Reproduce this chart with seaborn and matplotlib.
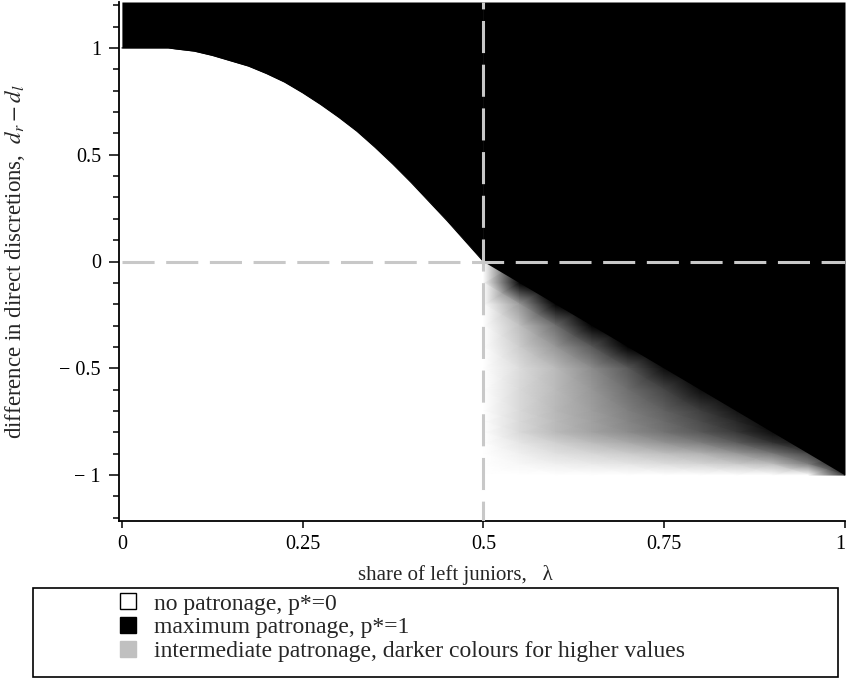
import numpy as np
import matplotlib
matplotlib.use("Agg")
import matplotlib.pyplot as plt
import seaborn as sns
from matplotlib.lines import Line2D
from matplotlib.patches import Rectangle
from matplotlib.ticker import MultipleLocator

# ---- data ----
# boundary between "no patronage" (below) and "maximum patronage" (above), lambda < 0.5
curve_x = [0.0, 0.064, 0.075, 0.10, 0.125, 0.15, 0.175, 0.20, 0.225, 0.25, 0.275,
           0.30, 0.325, 0.35, 0.375, 0.40, 0.425, 0.45, 0.475, 0.50]
curve_y = [1.0, 1.0, 0.995, 0.985, 0.965, 0.94, 0.915, 0.88, 0.84, 0.79, 0.735,
           0.675, 0.61, 0.535, 0.455, 0.37, 0.28, 0.19, 0.095, 0.0]
# upper edge of the intermediate region, lambda > 0.5
diag_x = [0.5, 1.0]
diag_y = [0.0, -1.0]
# intermediate patronage levels (0 = white, 1 = black) on a grid
grad_x = [0.5, 0.55, 0.6, 0.65, 0.7, 0.75, 0.8, 0.85, 0.9, 0.95, 1.0]
grad_y = [0.0, -0.1, -0.2, -0.3, -0.4, -0.5, -0.6, -0.7, -0.75, -0.8, -0.85, -0.9, -0.95, -1.0]
grad_p = [
    [0, 1.00, 1.00, 1.00, 1.00, 1.00, 1.00, 1.00, 1.00, 1.00, 1.00],
    [0, 1.00, 1.00, 1.00, 1.00, 1.00, 1.00, 1.00, 1.00, 1.00, 1.00],
    [0, 0.40, 1.00, 1.00, 1.00, 1.00, 1.00, 1.00, 1.00, 1.00, 1.00],
    [0, 0.25, 0.57, 1.00, 1.00, 1.00, 1.00, 1.00, 1.00, 1.00, 1.00],
    [0, 0.20, 0.41, 0.65, 1.00, 1.00, 1.00, 1.00, 1.00, 1.00, 1.00],
    [0, 0.14, 0.27, 0.45, 0.65, 0.95, 1.00, 1.00, 1.00, 1.00, 1.00],
    [0, 0.15, 0.27, 0.41, 0.57, 0.73, 0.95, 1.00, 1.00, 1.00, 1.00],
    [0, 0.15, 0.28, 0.38, 0.50, 0.62, 0.75, 0.92, 1.00, 1.00, 1.00],
    [0, 0.15, 0.27, 0.37, 0.48, 0.58, 0.70, 0.84, 1.00, 1.00, 1.00],
    [0, 0.15, 0.27, 0.36, 0.45, 0.55, 0.65, 0.78, 0.95, 1.00, 1.00],
    [0, 0.10, 0.18, 0.26, 0.33, 0.42, 0.50, 0.63, 0.80, 0.95, 1.00],
    [0, 0.06, 0.12, 0.16, 0.20, 0.25, 0.30, 0.40, 0.53, 0.73, 1.00],
    [0, 0.03, 0.06, 0.08, 0.10, 0.13, 0.16, 0.20, 0.25, 0.50, 1.00],
    [0, 0.00, 0.00, 0.00, 0.00, 0.00, 0.00, 0.00, 0.00, 0.00, 0.80],
]
x_ticks = [0, 0.25, 0.5, 0.75, 1]
x_tick_labels = ["0", "0.25", "0.5", "0.75", "1"]
y_ticks = [-1, -0.5, 0, 0.5, 1]
y_tick_labels = ["\u2212 1", "\u2212 0.5", "0", "0.5", "1"]
legend_labels = ["no patronage, p*=0",
                 "maximum patronage, p*=1",
                 "intermediate patronage, darker colours for higher values"]
legend_colors = ["white", "black", "#c0c0c0"]

# ---- style ----
sns.set_theme(style="ticks")
plt.rcParams["font.family"] = ["Liberation Serif", "DejaVu Serif"]
plt.rcParams["mathtext.fontset"] = "stix"
plt.rcParams["axes.edgecolor"] = "black"
plt.rcParams["xtick.color"] = "black"
plt.rcParams["ytick.color"] = "black"

W, H = 847, 684
fig = plt.figure(figsize=(W / 100, H / 100), dpi=100)
ax = fig.add_axes([119 / W, 163 / H, 726 / W, 519 / H])
ax.set_xlim(-0.004, 1.0)
ax.set_ylim(-1.215, 1.215)
ytop = ax.get_ylim()[1]

# intermediate gradient
GX, GY = np.meshgrid(grad_x, grad_y)
ax.pcolormesh(GX, GY, np.array(grad_p), cmap="gray_r", vmin=0, vmax=1,
              shading="gouraud", zorder=1)

# maximum patronage regions
ax.fill_between(curve_x, curve_y, ytop, color="black", lw=0, zorder=2)
ax.fill_between(diag_x, diag_y, ytop, color="black", lw=0, zorder=2)
sns.lineplot(x=curve_x, y=curve_y, color="black", lw=0.8, ax=ax, zorder=3)

# dashed reference lines
ax.axvline(0.5, color="#c8c8c8", lw=2.2, ls=(4, (10.5, 3.8)), zorder=4)
ax.hlines(0, 0, 1, color="#c8c8c8", lw=2.2, ls=(0, (10.5, 3.8)), zorder=4)

# axes
sns.despine(ax=ax)
ax.spines["left"].set_linewidth(1.3)
ax.spines["bottom"].set_linewidth(1.3)
ax.set_xticks(x_ticks)
ax.set_xticklabels(x_tick_labels)
ax.set_yticks(y_ticks)
ax.set_yticklabels(y_tick_labels)
ax.yaxis.set_minor_locator(MultipleLocator(0.1))
ax.tick_params(axis="y", which="major", length=7, width=1.1, pad=6, labelsize=14.5)
ax.tick_params(axis="y", which="minor", length=4.3, width=1.1)
ax.tick_params(axis="x", which="major", length=5, width=1.1, pad=5, labelsize=14.5)
ax.get_xticklabels()[-1].set_horizontalalignment("right")
ax.set_xlabel("share of left juniors,   \u03bb", fontsize=15)
ax.xaxis.set_label_coords(0.463, -0.085)
ax.set_ylabel("difference in direct discretions,  $d_r - d_l$", fontsize=16.5)
ax.yaxis.set_label_coords(-0.127, 0.5)

# legend with separate frame
fig.patches.append(Rectangle((33 / W, 1 - 677 / H), (838 - 33) / W, (677 - 588) / H,
                             transform=fig.transFigure, fill=False,
                             edgecolor="black", lw=1.2))
handles = [Line2D([], [], marker="s", linestyle="none", markersize=12,
                  markerfacecolor=c, markeredgecolor="black" if c == "white" else c,
                  markeredgewidth=1.0) for c in legend_colors]
fig.legend(handles, legend_labels, loc="upper left",
           bbox_to_anchor=(108 / W, 1 - 586 / H), frameon=False,
           fontsize=17, handlelength=1.1, handletextpad=0.55,
           labelspacing=0.1, borderpad=0.3, borderaxespad=0)

fig.savefig("out.png", dpi=100)
